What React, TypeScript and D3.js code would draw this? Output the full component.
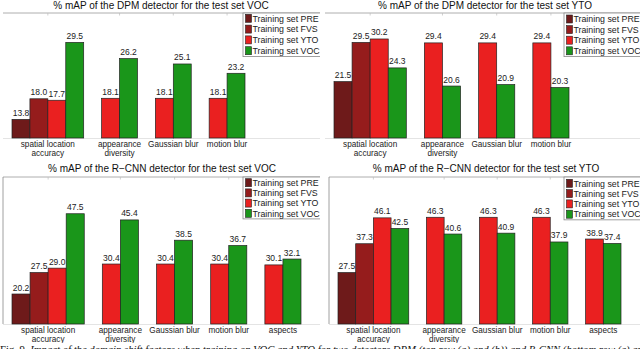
import React from "react";
import * as d3 from "d3";

// series (training sets) and colours
const SERIES = ["PRE", "FVS", "YTO", "VOC"];
const SERIES_COLORS = ["#6e1a1a", "#951c1c", "#ea2020", "#1a961a"];

// factor categories, label lines
const CATEGORIES_DPM = [
  ["spatial location", "accuracy"],
  ["appearance", "diversity"],
  ["Gaussian blur"],
  ["motion blur"],
];
const CATEGORIES_RCNN = [...CATEGORIES_DPM, ["aspects"]];

// values per category, one entry per series (null = not measured)
const DPM_VOC = [
  [13.8, 18.0, 17.7, 29.5],
  [null, null, 18.1, 26.2],
  [null, null, 18.1, 25.1],
  [null, null, 18.1, 23.2],
];
const DPM_YTO = [
  [21.5, 29.5, 30.2, 24.3],
  [null, null, 29.4, 20.6],
  [null, null, 29.4, 20.9],
  [null, null, 29.4, 20.3],
];
const RCNN_VOC = [
  [20.2, 27.5, 29.0, 47.5],
  [null, null, 30.4, 45.4],
  [null, null, 30.4, 38.5],
  [null, null, 30.4, 36.7],
  [null, null, 30.1, 32.1],
];
const RCNN_YTO = [
  [27.5, 37.3, 46.1, 42.5],
  [null, null, 46.3, 40.6],
  [null, null, 46.3, 40.9],
  [null, null, 46.3, 37.9],
  [null, null, 38.9, 37.4],
];

const Y_DOMAIN_DPM = [10, 35.5];
const Y_DOMAIN_RCNN = [10, 60];

const CAPTION_HEAD = "Fig. 9.  ";
const CAPTION_BODY =
  "Impact of the domain shift factors when training on VOC and YTO for two detectors DPM (top row (a) and (b)) and R-CNN (bottom row (c) and (d)).";

const FONT = "'Liberation Sans', Arial, Helvetica, sans-serif";

type Props = {
  id: string;
  title: string;
  categories: string[][];
  values: (number | null)[][];
  yDomain: number[];
  clip: number[]; // x, y, w, h
  titleX: number;
  titleY: number;
  topY: number;
  baseY: number;
  x0: number;
  x1: number;
  axisLeft: number;
  leftLine: boolean;
  labelY: number;
  legendX: number;
  legendRow0: number;
  legendRowH: number;
};

function Panel(p: Props) {
  // lay the bars out in slots: present bars only, one empty slot between groups
  const slots: { g: number; s: number; v: number; slot: number }[] = [];
  const centers: number[] = [];
  let cursor = 0;
  p.values.forEach((row, g) => {
    const start = cursor;
    row.forEach((v, s) => {
      if (v == null) return;
      slots.push({ g, s, v, slot: cursor });
      cursor += 1;
    });
    centers.push((start + cursor) / 2);
    cursor += 1;
  });
  const totalSlots = cursor - 1;

  const x = d3.scaleLinear().domain([0, totalSlots]).range([p.x0, p.x1]);
  const y = d3.scaleLinear().domain(p.yDomain).range([p.baseY, p.topY]);
  const bw = x(1) - x(0);

  const [cx, cy, cw, ch] = p.clip;
  const legendW = cx + cw - p.legendX + 4;

  return (
    <g clipPath={`url(#${p.id})`}>
      <defs>
        <clipPath id={p.id}>
          <rect x={cx} y={cy} width={cw} height={ch} />
        </clipPath>
      </defs>
      <text
        x={p.titleX}
        y={p.titleY}
        textAnchor="middle"
        fontSize={10}
        fill="#111"
      >
        {p.title}
      </text>
      {/* axes box remnants */}
      <line x1={p.axisLeft} x2={cx + cw} y1={p.topY} y2={p.topY} stroke="#999" strokeWidth={0.8} />
      <line x1={p.axisLeft} x2={cx + cw} y1={p.baseY + 0.5} y2={p.baseY + 0.5} stroke="#ddd" strokeWidth={0.8} />
      {p.leftLine && (
        <line x1={p.axisLeft} x2={p.axisLeft} y1={p.topY} y2={p.baseY} stroke="#888" strokeWidth={0.8} />
      )}
      {centers.map((c, i) => (
        <line key={i} x1={x(c)} x2={x(c)} y1={p.topY} y2={p.topY + 2.5} stroke="#bbb" strokeWidth={0.7} />
      ))}

      {slots.map((d, i) => (
        <g key={i}>
          <rect
            x={x(d.slot)}
            y={y(d.v)}
            width={bw}
            height={y(p.yDomain[0]) - y(d.v)}
            fill={SERIES_COLORS[d.s]}
            stroke="#222"
            strokeWidth={0.7}
          />
          <text
            x={x(d.slot + 0.5)}
            y={y(d.v) - 3.5}
            textAnchor="middle"
            fontSize={8.5}
            fill="#222"
          >
            {d.v.toFixed(1)}
          </text>
        </g>
      ))}

      {p.categories.map((lines, i) => (
        <text key={i} textAnchor="middle" fontSize={8.2} fill="#222">
          {lines.map((l, j) => (
            <tspan key={j} x={x(centers[i])} y={p.labelY + j * 9.4}>
              {l}
            </tspan>
          ))}
        </text>
      ))}

      {/* legend */}
      <rect
        x={p.legendX}
        y={p.topY}
        width={legendW}
        height={p.legendRow0 + p.legendRowH * 3.5 - p.topY + 0.5}
        fill="#fff"
        stroke="#888"
        strokeWidth={0.8}
      />
      {SERIES.map((s, i) => {
        const ry = p.legendRow0 + i * p.legendRowH;
        return (
          <g key={s}>
            <rect
              x={p.legendX + 2.5}
              y={ry - 4}
              width={6}
              height={8}
              fill={SERIES_COLORS[i]}
              stroke="#222"
              strokeWidth={0.6}
            />
            <text x={p.legendX + 9.5} y={ry + 3.2} fontSize={8.8} fill="#222">
              {`Training set ${s}`}
            </text>
          </g>
        );
      })}
    </g>
  );
}

export default function App() {
  const W = 640;
  const H = 349;
  return (
    <svg
      width={W}
      height={H}
      style={{ position: "absolute", left: 0, top: 0, background: "#fff" }}
      fontFamily={FONT}
    >
      <rect width={W} height={H} fill="#fff" />
      <Panel
        id="clip-tl"
        title="% mAP of the DPM detector for the test set VOC"
        categories={CATEGORIES_DPM}
        values={DPM_VOC}
        yDomain={Y_DOMAIN_DPM}
        clip={[0, 0, 320, 165]}
        titleX={161}
        titleY={8.5}
        topY={13}
        baseY={138}
        x0={12}
        x1={245}
        axisLeft={3}
        leftLine={false}
        labelY={146.5}
        legendX={243}
        legendRow0={18.3}
        legendRowH={10.8}
      />
      <Panel
        id="clip-tr"
        title="% mAP of the DPM detector for the test set YTO"
        categories={CATEGORIES_DPM}
        values={DPM_YTO}
        yDomain={Y_DOMAIN_DPM}
        clip={[320, 0, 320, 165]}
        titleX={485}
        titleY={8.5}
        topY={13}
        baseY={138}
        x0={334}
        x1={569}
        axisLeft={325}
        leftLine={false}
        labelY={146.5}
        legendX={564}
        legendRow0={19}
        legendRowH={10.6}
      />
      <Panel
        id="clip-bl"
        title="% mAP of the R−CNN detector for the test set VOC"
        categories={CATEGORIES_RCNN}
        values={RCNN_VOC}
        yDomain={Y_DOMAIN_RCNN}
        clip={[0, 162, 320, 181]}
        titleX={162}
        titleY={172}
        topY={177}
        baseY={324}
        x0={12}
        x1={301}
        axisLeft={3}
        leftLine={true}
        labelY={333}
        legendX={243}
        legendRow0={182.7}
        legendRowH={10.2}
      />
      <Panel
        id="clip-br"
        title="% mAP of the R−CNN detector for the test set YTO"
        categories={CATEGORIES_RCNN}
        values={RCNN_YTO}
        yDomain={Y_DOMAIN_RCNN}
        clip={[320, 162, 320, 181]}
        titleX={486}
        titleY={172}
        topY={177}
        baseY={324}
        x0={338}
        x1={621}
        axisLeft={329}
        leftLine={true}
        labelY={333}
        legendX={564}
        legendRow0={183.3}
        legendRowH={10.3}
      />
      <text x={0} y={352.5} fontSize={10.7} fontFamily="'Liberation Serif', 'Times New Roman', serif" fill="#111">
        <tspan>{CAPTION_HEAD}</tspan>
        <tspan fontStyle="italic">{CAPTION_BODY}</tspan>
      </text>
    </svg>
  );
}
